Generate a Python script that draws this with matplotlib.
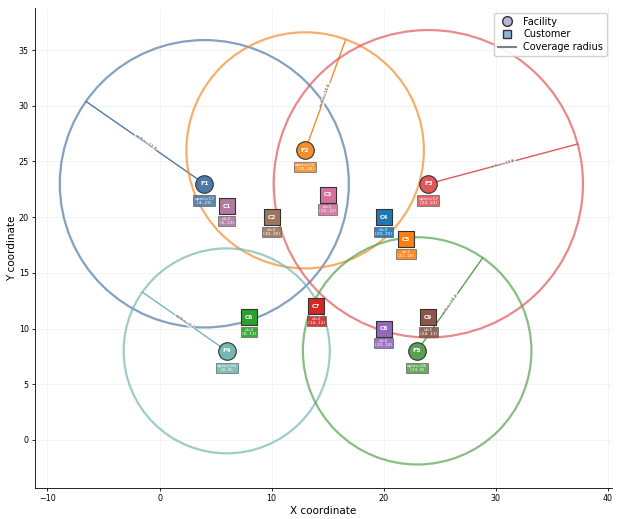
import numpy as np
import matplotlib
matplotlib.use("Agg")
import matplotlib.pyplot as plt
from matplotlib.lines import Line2D

# facilities
fac_names = ["F1", "F2", "F3", "F4", "F5"]
fac_x = [4, 13, 24, 6, 23]
fac_y = [23, 26, 23, 8, 8]
fac_open = [17, 12, 17, 10, 18]
fac_radius = [12.9, 10.6, 13.8, 9.2, 10.2]
fac_angle = [145, 70, 15, 145, 55]   # direction of the radius line, degrees
fac_colors = ["#4e79a7", "#f28e2b", "#e15759", "#76b7b2", "#59a14f"]

# customers
cus_names = ["C1", "C2", "C3", "C4", "C5", "C6", "C7", "C8", "C9"]
cus_x = [6, 10, 15, 20, 22, 8, 14, 20, 24]
cus_y = [21, 20, 22, 20, 18, 11, 12, 10, 11]
cus_demand = [2, 2, 1, 2, 1, 2, 2, 2, 1]
cus_colors = ["#b07aa1", "#9c755f", "#d3729f", "#1f77b4", "#ff7f0e",
              "#2ca02c", "#d62728", "#9467bd", "#8c564b"]

fig = plt.figure(figsize=(6.17, 5.19), dpi=100)
ax = fig.add_axes([0.057, 0.060, 0.935, 0.925])

# coverage circles + radius lines
for i in range(len(fac_names)):
    c = plt.Circle((fac_x[i], fac_y[i]), fac_radius[i], fill=False,
                   edgecolor=fac_colors[i], lw=1.6, alpha=0.7, zorder=2)
    ax.add_patch(c)
    a = np.deg2rad(fac_angle[i])
    ex = fac_x[i] + fac_radius[i] * np.cos(a)
    ey = fac_y[i] + fac_radius[i] * np.sin(a)
    ax.plot([fac_x[i], ex], [fac_y[i], ey], color=fac_colors[i], lw=1.0, zorder=2)
    mx, my = (fac_x[i] + ex) / 2, (fac_y[i] + ey) / 2
    rot = fac_angle[i] if fac_angle[i] <= 90 else fac_angle[i] - 180
    ax.text(mx, my, f"radius={fac_radius[i]}", fontsize=3, rotation=rot,
            rotation_mode="anchor", ha="center", va="center", color="#444444",
            bbox=dict(boxstyle="round,pad=0.1", fc="white", ec="none", alpha=0.7),
            zorder=3)

# facilities
for i in range(len(fac_names)):
    ax.scatter(fac_x[i], fac_y[i], s=160, marker="o", color=fac_colors[i],
               edgecolors="#333333", linewidths=0.8, zorder=5)
    ax.text(fac_x[i], fac_y[i], fac_names[i], fontsize=4.5, color="white",
            fontweight="bold", ha="center", va="center", zorder=6)
    ax.text(fac_x[i], fac_y[i] - 1.15, f"open={fac_open[i]}\n({fac_x[i]}, {fac_y[i]})",
            fontsize=3.2, color="white", ha="center", va="top", linespacing=1.0,
            bbox=dict(boxstyle="square,pad=0.25", fc=fac_colors[i], ec="#555555",
                      lw=0.5, alpha=0.9), zorder=6)

# customers
for i in range(len(cus_names)):
    ax.scatter(cus_x[i], cus_y[i], s=120, marker="s", color=cus_colors[i],
               edgecolors="#333333", linewidths=0.8, zorder=5)
    ax.text(cus_x[i], cus_y[i], cus_names[i], fontsize=4.2, color="white",
            fontweight="bold", ha="center", va="center", zorder=6)
    ax.text(cus_x[i], cus_y[i] - 0.95, f"d={cus_demand[i]}\n({cus_x[i]}, {cus_y[i]})",
            fontsize=3.2, color="white", ha="center", va="top", linespacing=1.0,
            bbox=dict(boxstyle="square,pad=0.25", fc=cus_colors[i], ec="#555555",
                      lw=0.5, alpha=0.9), zorder=6)

ax.set_xlim(-11.1, 40.4)
ax.set_ylim(-4.3, 38.8)
ax.set_xticks([-10, 0, 10, 20, 30, 40])
ax.set_yticks([0, 5, 10, 15, 20, 25, 30, 35])
ax.tick_params(labelsize=5.8, length=2.5, width=0.6, pad=2)
ax.grid(True, color="#e8e8e8", lw=0.6, alpha=0.6)
ax.set_axisbelow(True)
for s in ["top", "right"]:
    ax.spines[s].set_visible(False)
for s in ["left", "bottom"]:
    ax.spines[s].set_linewidth(0.6)
ax.set_xlabel("X coordinate", fontsize=7.5, labelpad=2)
ax.set_ylabel("Y coordinate", fontsize=7.5, labelpad=1)

handles = [
    Line2D([], [], marker="o", ls="none", markerfacecolor="#b8b3d9",
           markeredgecolor="#333333", markersize=7, label="Facility"),
    Line2D([], [], marker="s", ls="none", markerfacecolor="#8fb5d6",
           markeredgecolor="#333333", markersize=6, label="Customer"),
    Line2D([], [], color="gray", lw=1.5, label="Coverage radius"),
]
ax.legend(handles=handles, loc="upper right", fontsize=7, framealpha=0.9,
          handlelength=1.8, borderpad=0.4, labelspacing=0.3)

fig.savefig("out.png", dpi=100)
